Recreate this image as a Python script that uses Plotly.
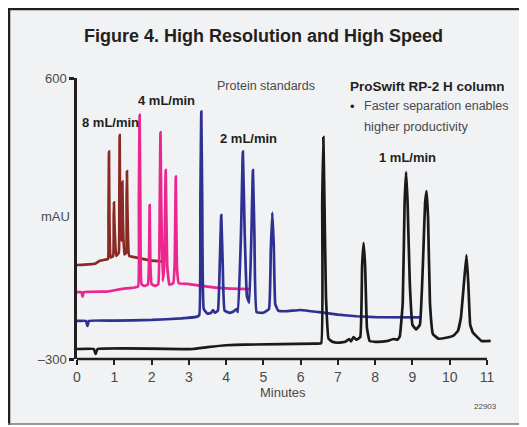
import plotly.graph_objects as go

# ---------------- data ----------------
red_x = [0, 0.3, 0.5, 0.6, 0.75, 0.83, 0.845, 0.858, 0.87, 0.9, 0.97, 0.985, 0.992, 1.0, 1.05, 1.12, 1.135, 1.145,
         1.155, 1.185, 1.205, 1.217, 1.23, 1.27, 1.32, 1.33, 1.34, 1.35, 1.4, 1.5, 1.7, 2.0, 2.3]
red_y = [1, 3, 6, 14, 18, 20, 150, 364, 150, 25, 30, 150, 202, 150, 30, 40, 200, 417,
         200, 80, 200, 268, 150, 35, 40, 200, 302, 200, 30, 27, 22, 15, 12]

pink_x = [0, 0.12, 0.15, 0.18, 0.8, 1.0, 1.3, 1.55, 1.64, 1.66, 1.68, 1.70, 1.73, 1.8, 1.9, 1.93, 1.95, 1.97, 2.0,
          2.1, 2.18, 2.22, 2.24, 2.26, 2.3, 2.34, 2.38, 2.42, 2.48, 2.58, 2.62, 2.65, 2.68, 2.73, 3.0, 3.5, 4.0, 4.65]
pink_y = [-86, -86, -100, -86, -84, -80, -74, -71, -68, 200, 482, 200, -60, -66, -62, 0, 193, 0, -60,
          -66, -60, 200, 426, 200, -50, 0, 305, 0, -62, -58, 0, 284, 0, -57, -60, -68, -74, -76]

blue_x = [0, 0.24, 0.28, 0.32, 1.0, 2.0, 2.8, 3.2, 3.28, 3.31, 3.335, 3.36, 3.4, 3.5, 3.6, 3.65, 3.7, 3.78, 3.83,
          3.87, 3.91, 3.96, 4.1, 4.2, 4.28, 4.32, 4.4, 4.45, 4.5, 4.56, 4.62, 4.68, 4.72, 4.76, 4.82, 5.0, 5.15,
          5.2, 5.24, 5.28, 5.32, 5.4, 5.6, 6.0, 6.5, 7.0, 7.5, 8.0, 9.22]
blue_y = [-178, -178, -194, -178, -177, -175, -170, -165, -160, 200, 492, 200, -140, -155, -152, -143, -152, -145, 0,
          161, 0, -145, -152, -148, -140, -150, 100, 364, 100, -100, -120, 100, 305, 100, -150, -152, -140,
          50, 169, 60, -125, -145, -147, -143, -150, -158, -163, -166, -167]

black_x = [0, 0.45, 0.5, 0.55, 3.1, 3.5, 4.0, 4.5, 6.4, 6.55, 6.58, 6.61, 6.64, 6.68, 6.75, 6.85, 7.0, 7.2, 7.3,
           7.35, 7.42, 7.5, 7.6, 7.65, 7.69, 7.73, 7.78, 7.85, 8.0, 8.3, 8.5, 8.6, 8.66, 8.74, 8.79, 8.83, 8.87,
           8.93, 9.0, 9.1, 9.2, 9.28, 9.34, 9.38, 9.42, 9.47, 9.55, 9.7, 9.9, 10.1, 10.22, 10.3, 10.38, 10.45,
           10.5, 10.55, 10.62, 10.7, 10.85, 11.1]
black_y = [-268, -268, -284, -268, -268, -262, -256, -254, -251, -250, 200, 411, 200, -100, -235, -245, -248, -245, -236,
           -244, -230, -238, -230, 0, 72, 0, -200, -242, -245, -243, -236, -238, -228, -120, 200, 299, 200,
           -60, -190, -205, -190, 0, 200, 238, 150, -120, -220, -235, -232, -225, -210, -168, -60, 33,
           -60, -190, -215, -225, -242, -242]

x_ticks = list(range(0, 12))
y_tickvals = [600, -300]
y_ticktext = ["600", "\u2013300"]

colors = {"8": "#8b2a24", "4": "#ec268f", "2": "#2e3192", "1": "#1a1a1a"}

FONT = "Liberation Sans, Arial, sans-serif"

# ---------------- geometry ----------------
OFF = 8            # page offset of the figure (body margin)
W, H = 527 - 2 * OFF, 427 - OFF
PX_PER_MIN = 37.27
L, T = 69, 70      # figure-pixel margins (page 77 / 78)
PW = 417
PH = 281
XMAX = PW / PX_PER_MIN

fig = go.Figure()
for xs, ys, c in [(red_x, red_y, colors["8"]), (pink_x, pink_y, colors["4"]),
                  (blue_x, blue_y, colors["2"]), (black_x, black_y, colors["1"])]:
    fig.add_trace(go.Scatter(x=xs, y=ys, mode="lines", line=dict(color=c, width=2.7, shape="spline", smoothing=0.3),
                             hoverinfo="skip", showlegend=False))


def px(xp):  # page pixel -> paper x
    return (xp - OFF - L) / PW


def py(yp):  # page pixel -> paper y
    return (T + PH - (yp - OFF)) / PH


BOTTOM = 424
shapes = [
    dict(type="rect", xref="paper", yref="paper", x0=px(8), x1=px(540), y0=py(BOTTOM), y1=py(8),
         fillcolor="#f1f2f4", line=dict(width=0), layer="below"),
    dict(type="line", xref="paper", yref="paper", x0=px(9), x1=px(9), y0=py(BOTTOM + 1), y1=py(8),
         line=dict(color="#231f20", width=2.5), layer="below"),
    dict(type="line", xref="paper", yref="paper", x0=px(8), x1=px(540), y0=py(9), y1=py(9),
         line=dict(color="#231f20", width=2.5), layer="below"),
    dict(type="line", xref="paper", yref="paper", x0=px(8), x1=px(540), y0=py(BOTTOM), y1=py(BOTTOM),
         line=dict(color="#777777", width=1.5), layer="below"),
    # x axis line from 0 to 11 minutes
    dict(type="line", xref="x", yref="paper", x0=0, x1=11, y0=0, y1=0,
         line=dict(color="#231f20", width=2.5)),
]

annos = []


def txt(x, y, s, size=13, bold=False, color="#4a4a4a", anchor="left"):
    annos.append(dict(xref="paper", yref="paper", x=px(x), y=py(y), text=("<b>%s</b>" % s) if bold else s,
                      showarrow=False, xanchor=anchor, yanchor="middle",
                      font=dict(family=FONT, size=size, color=color)))


txt(263.5, 36, "Figure 4. High Resolution and High Speed", size=18, bold=True, color="#231f20", anchor="center")
txt(55, 216, "mAU", size=13, anchor="center")
txt(283, 392, "Minutes", size=13, anchor="center")
txt(485.5, 407, "22903", size=8, anchor="center")
txt(215, 86, "Protein standards", size=12.5)
txt(348, 86, "ProSwift RP-2 H column", size=13.5, bold=True, color="#231f20")
txt(348, 106, "\u2022", size=13, color="#231f20")
txt(362, 106, "Faster separation enables", size=12.5)
txt(362, 126, "higher productivity", size=12.8)
txt(80, 122, "8 mL/min", size=13, bold=True, color="#231f20")
txt(136, 101, "4 mL/min", size=13, bold=True, color="#231f20")
txt(218, 138, "2 mL/min", size=13, bold=True, color="#231f20")
txt(377, 157, "1 mL/min", size=13, bold=True, color="#231f20")

fig.update_layout(
    width=W, height=H,
    margin=dict(l=L, r=W - L - PW, t=T, b=H - T - PH, pad=0, autoexpand=False),
    paper_bgcolor="white", plot_bgcolor="rgba(0,0,0,0)",
    shapes=shapes, annotations=annos,
    font=dict(family=FONT, color="#4a4a4a"),
    xaxis=dict(range=[0, XMAX], tickvals=x_ticks, ticks="outside", ticklen=5, tickwidth=2, tickcolor="#231f20",
               showline=False, showgrid=False, zeroline=False,
               tickfont=dict(size=14, color="#4a4a4a", family=FONT), fixedrange=True),
    yaxis=dict(range=[-300, 600], tickvals=y_tickvals, ticktext=y_ticktext, ticks="outside", ticklen=5,
               tickwidth=2.5, tickcolor="#231f20", showline=True, linecolor="#231f20", linewidth=2.5,
               showgrid=False, zeroline=False, tickfont=dict(size=13, color="#4a4a4a", family=FONT),
               fixedrange=True),
)

fig.write_html("out.html")
